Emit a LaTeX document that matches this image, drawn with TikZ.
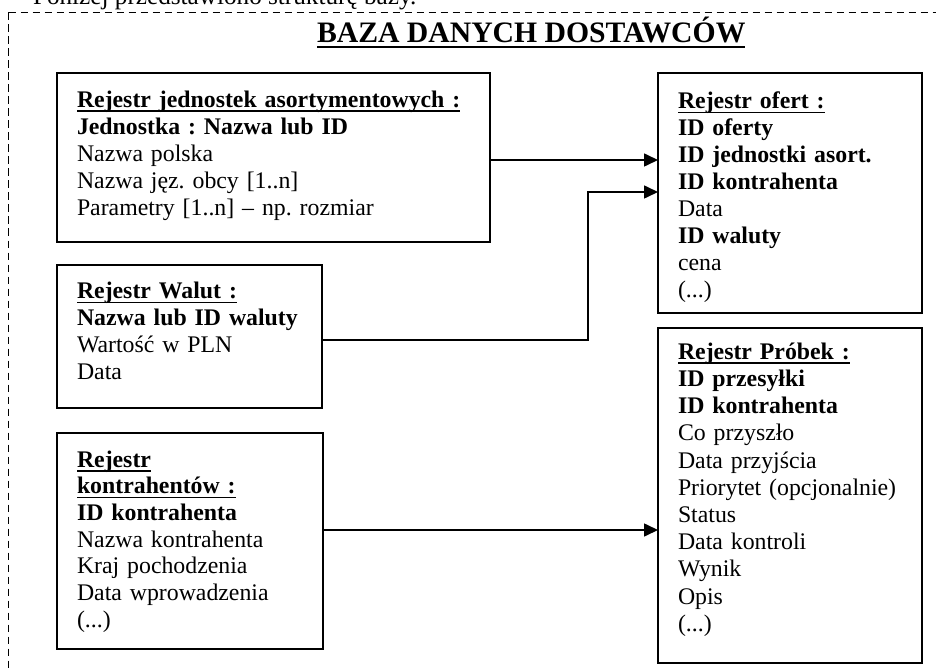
\documentclass[tikz,border=0pt]{standalone}
\usepackage{fontspec}
\setmainfont{Liberation Serif}
\usetikzlibrary{arrows.meta,positioning,calc}
\frenchspacing
\newcommand{\rej}[1]{\leavevmode{\bfseries\setbox0\hbox{#1}\rlap{\rule[-4.5pt]{\wd0}{1.5pt}}\box0}}
\newcommand{\pole}[1]{{\bfseries #1}}
\newcommand{\rozmiar}[1]{\fontsize{23.8}{#1}\selectfont}

\begin{document}
\begin{tikzpicture}[
  x=1pt, y=-1pt,
  every node/.style={inner sep=0pt, outer sep=0pt},
  tabela/.style={draw, line width=1.8pt, anchor=north west, align=left,
                 inner xsep=20pt, inner ysep=0pt, font=\rozmiar{27}},
  link/.style={-{Triangle[length=14pt,width=13pt]}, line width=1.6pt},
  ramka/.style={dash pattern=on 7.5pt off 4.5pt, line width=1.5pt},
]
\useasboundingbox (0,0) rectangle (936,668);

% ---------------------------------------------------------------- geometry
\def\xl{57}    % left column
\def\xr{658}   % right column

% ---------------------------------------------------------------- frame
\draw[ramka] (8.5,12.5) -- (960,12.5);
\draw[ramka] (8.5,12.5) -- (8.5,690);

\node[anchor=base west, font=\fontsize{25.2}{28}\selectfont] (wstep) at (33,5)
  {Poniżej przedstawiono strukturę bazy.};

\node[anchor=base west, font=\fontsize{29.7}{33}\selectfont] (tytul) at (317,43)
  {\bfseries\setbox0\hbox{BAZA DANYCH DOSTAWCÓW}\rlap{\rule[-5.5pt]{\wd0}{2.7pt}}\box0};

% ---------------------------------------------------------------- left
\node[tabela, text width=393pt, text height=34.5pt, text depth=134.5pt] (jedn) at (\xl,73)
  {\rej{Rejestr jednostek asortymentowych :}\\
   \pole{Jednostka : Nazwa lub ID}\\
   Nazwa polska\\
   Nazwa jęz. obcy [1..n]\\
   Parametry [1..n] – np. rozmiar};

\node[tabela, text width=225pt, text height=33.5pt, text depth=109.5pt] (waluty) at (\xl,265)
  {\rej{Rejestr Walut :}\\
   \pole{Nazwa lub ID waluty}\\
   Wartość w PLN\\
   Data};

\node[tabela, font=\rozmiar{26.7}, text width=226pt, text height=34pt, text depth=182pt]
     (kontr) at (\xl,433)
  {\rej{Rejestr}\\
   \rej{kontrahentów :}\\
   \pole{ID kontrahenta}\\
   Nazwa kontrahenta\\
   Kraj pochodzenia\\
   Data wprowadzenia\\
   (...)};

% ---------------------------------------------------------------- right
\node[tabela, text width=224pt, text height=36pt, text depth=204pt]
     (oferty) at (\xr,73)
  {\rej{Rejestr ofert :}\\
   \pole{ID oferty}\\
   \pole{ID jednostki asort.}\\
   \pole{ID kontrahenta}\\
   Data\\
   \pole{ID waluty}\\
   cena\\
   (...)};

\node[tabela, font=\rozmiar{27.2}, text width=224pt, text height=31.3pt, text depth=303.7pt]
     (probki) at (\xr,328)
  {\rej{Rejestr Próbek :}\\
   \pole{ID przesyłki}\\
   \pole{ID kontrahenta}\\
   Co przyszło\\
   Data przyjścia\\
   Priorytet (opcjonalnie)\\
   Status\\
   Data kontroli\\
   Wynik\\
   Opis\\
   (...)};

% ---------------------------------------------------------------- links
\coordinate (kolano) at (588,192);

\draw[link] (jedn.east |- 0,160) -- (oferty.west |- 0,160);
\draw[link] (waluty.east |- 0,340) -| (kolano) -- (kolano -| oferty.west);
\draw[link] (kontr.east |- 0,530) -- (probki.west |- 0,530);

\end{tikzpicture}
\end{document}
